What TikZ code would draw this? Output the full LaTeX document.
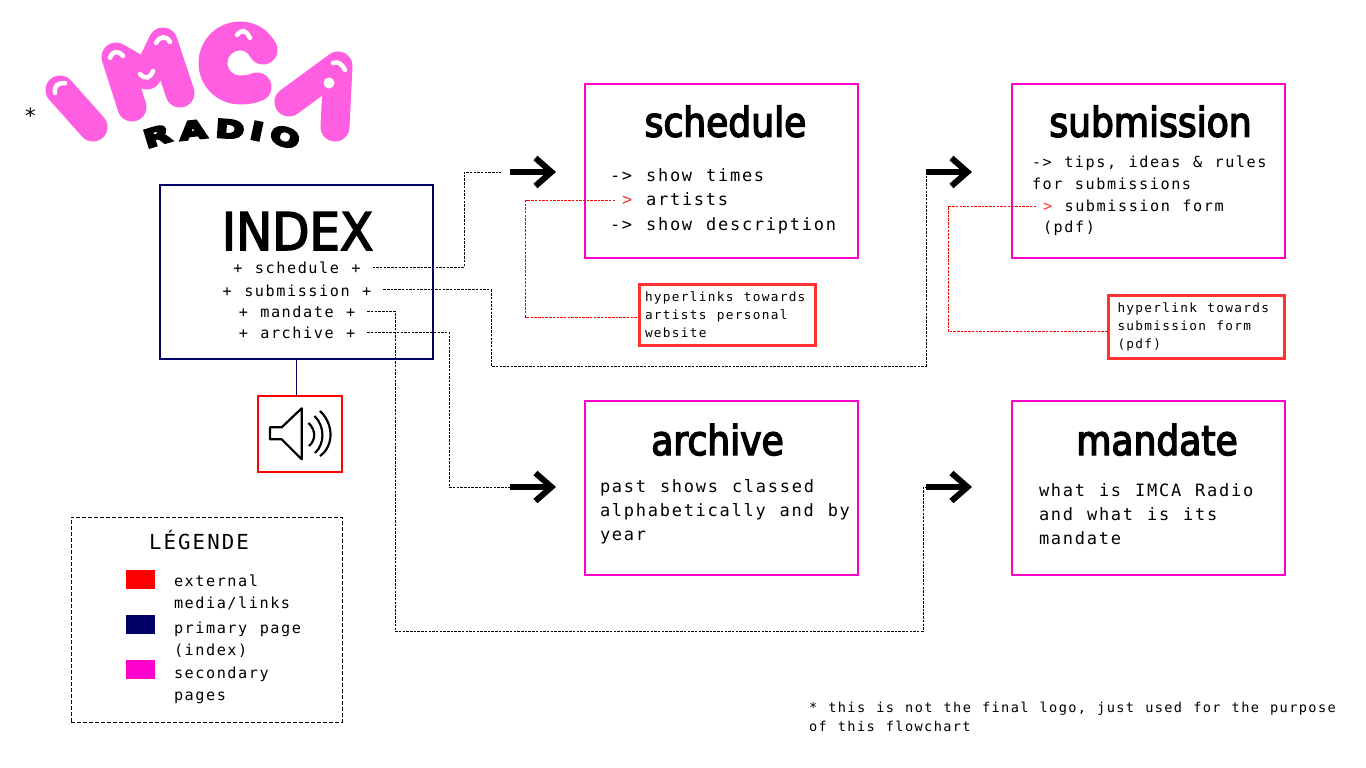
\documentclass[tikz,border=0pt]{standalone}
\usepackage{xcolor}
\usepackage{fontspec}
\usepackage{tikz}
\usetikzlibrary{arrows.meta,positioning}
\newfontfamily\monofont[LetterSpace=10.2,WordSpace=1.16]{DejaVu Sans Mono}
\newfontfamily\headfont[FakeStretch=0.88,FakeBold=3.5]{DejaVu Sans}
\newfontfamily\indexfont[FakeStretch=0.93,FakeBold=3]{DejaVu Sans}
\newfontfamily\radiofont[FakeStretch=1.45,FakeBold=11]{DejaVu Sans Bold}
\definecolor{pagenavy}{HTML}{000066}
\definecolor{pagepink}{HTML}{FF00CC}
\definecolor{mediared}{HTML}{FF0000}
\definecolor{linkred}{HTML}{FF3333}
\definecolor{logopink}{HTML}{FF5EE0}

\begin{document}
\begin{tikzpicture}[
    x=1pt, y=-1pt,
    node distance=20pt,
    every node/.style={outer sep=0pt},
    pagebox/.style={draw=pagepink, line width=2.4pt, minimum width=273pt, minimum height=174pt},
    indexbox/.style={draw=pagenavy, line width=2.4pt, minimum width=273pt, minimum height=174pt},
    mediabox/.style={draw=mediared, line width=2.4pt, minimum width=84pt, minimum height=76pt},
    linkbox/.style={draw=linkred, line width=3pt, align=flush left, inner ysep=0pt},
    swatch/.style={minimum width=29pt, minimum height=19pt, inner sep=0pt},
    titletxt/.style={anchor=base, inner sep=0pt, font=\headfont\fontsize{41}{41}\selectfont},
    menutxt/.style={anchor=base, inner xsep=12pt, inner ysep=0pt, text height=12.5pt, font=\monofont\fontsize{15.2}{20}\selectfont},
    listtxt/.style={anchor=base west, inner sep=0pt, align=flush left, font=\monofont\fontsize{17}{24}\selectfont},
    midtxt/.style={anchor=base west, inner sep=0pt, font=\monofont\fontsize{15.2}{22}\selectfont},
    reftxt/.style={anchor=base west, inner xsep=7pt, inner ysep=0pt, text height=10.5pt},
    smalltxt/.style={font=\monofont\fontsize{12.75}{18}\selectfont},
    radiotxt/.style={inner sep=0pt, text=black, font=\radiofont\fontsize{24}{24}\selectfont},
    dashline/.style={black, line width=0.8pt, dash pattern=on 2.5pt off 1.2pt},
    refline/.style={mediared, line width=0.8pt, dash pattern=on 2.5pt off 1.2pt},
    bigarr/.style={-{Straight Barb[length=16pt, width=28pt, line width=6pt]}, line width=6pt},
    logostroke/.style={logopink, line width=29pt, line cap=round, line join=round},
    logoshine/.style={white, line width=4.5pt, line cap=round},
]
\useasboundingbox (0,0) rectangle (1366,768);

% Logo
\draw[logostroke] (60,90) -- (93,127);
\draw[logostroke] (132,107) -- (116,57) -- (147,75) -- (163,42) -- (180,93);
\draw[logostroke] (263,50) .. controls (258,41) and (250,36) .. (240,36) .. controls (225,36) and (213,48) .. (213,63) .. controls (213,78) and (225,90) .. (240,90) .. controls (246,90) and (252,89) .. (257,87);
\draw[logostroke] (289,102) -- (338,66) -- (335,127);
\draw[logoshine] (55,93) .. controls (54,85) and (58,83) .. (65,83);
\draw[logoshine] (110,58) .. controls (112,51) and (118,50) .. (123,56);
\draw[logoshine] (140,74) .. controls (146,80) and (150,78) .. (153,71);
\draw[logoshine] (156,43) .. controls (160,36) and (166,35) .. (170,42);
\draw[logoshine] (237,35) .. controls (242,29) and (246,30) .. (250,38);
\draw[logoshine] (333,63) .. controls (338,61) and (342,64) .. (345,70);
\fill[white] (329,83) circle (5.5);
\node[radiotxt, rotate=17] (radior) at (157,136) {R};
\node[radiotxt, rotate=6] (radioa) at (193,130) {A};
\node[radiotxt, rotate=-4] (radiod) at (230,129) {D};
\node[radiotxt, rotate=-12] (radioi) at (257,131) {I};
\node[radiotxt, rotate=-18] (radioo) at (285,137) {O};
\node[inner sep=0pt, font=\monofont\fontsize{21}{21}\selectfont] (logostar) at (30.5,116) {*};

% Index
\node[indexbox] (index) at (296.5,272) {};
\node[titletxt, font=\indexfont\fontsize{52}{52}\selectfont] (indextitle) at (297.5,250) {INDEX};
\node[menutxt] (menusched) at (297,273.3) {+ schedule +};
\node[menutxt] (menusub) at (297,296) {+ submission +};
\node[menutxt] (menumand) at (297,317.3) {+ mandate +};
\node[menutxt] (menuarch) at (297,338.3) {+ archive +};

% Audio player
\node[mediabox, below=37pt of index, xshift=3.5pt] (speaker) {};
\draw[black, line width=2.2pt, line join=round] (270,427.3) -- (281.7,427.3) -- (301.7,408.3) -- (301.7,459.3) -- (281.7,439.3) -- (270,439.3) -- cycle;
\draw[black, line width=2.2pt] (308.5,423) .. controls (316,430) and (316,440) .. (309,446);
\draw[black, line width=2.2pt] (314.5,416) .. controls (325,426) and (325,444) .. (315,453);
\draw[black, line width=2.2pt] (320,411) .. controls (334,424) and (334,446) .. (320,456);

% Secondary pages
\node[pagebox] (schedule) at (721.5,171) {};
\node[pagebox, right=154pt of schedule] (submission) {};
\node[pagebox, below=143pt of schedule] (archive) {};
\node[pagebox, right=154pt of archive] (mandate) {};

% Schedule
\node[titletxt] (schedtitle) at (725.5,136.7) {schedule};
\node[listtxt] (showtimes) at (610,181.7) {-> show times};
\node[listtxt, reftxt] (artists) at (615,205.5) {\textcolor{linkred}{>} artists};
\node[listtxt] (showdesc) at (610,230) {-> show description};
\node[linkbox, smalltxt, text width=164pt, inner xsep=6pt, minimum height=61pt, below=26pt of schedule, xshift=5.5pt] (artistlink) {hyperlinks towards\\artists personal\\website};

% Submission
\node[titletxt] (subtitle) at (1150.5,136.7) {submission};
\node[midtxt] (subtips) at (1032,167.3) {-> tips, ideas \& rules};
\node[midtxt] (subfor) at (1032,189.3) {for submissions};
\node[midtxt, reftxt] (subform) at (1036,211.7) {\textcolor{linkred}{>} submission form};
\node[midtxt] (subpdf) at (1043,232.7) {(pdf)};
\node[linkbox, smalltxt, text width=158pt, inner xsep=9pt, minimum height=63pt, below=37pt of submission, xshift=48pt] (formlink) {hyperlink towards\\submission form\\(pdf)};

% Archive
\node[titletxt] (archtitle) at (717.5,455) {archive};
\node[listtxt] (archtext) at (600,540) {past shows classed\\alphabetically and by\\year};

% Mandate
\node[titletxt] (mandtitle) at (1157,455) {mandate};
\node[listtxt] (mandtext) at (1039,544) {what is IMCA Radio\\and what is its\\mandate};

% Big arrows
\coordinate (schedin) at (510,172);
\coordinate (subin) at (926,172);
\coordinate (archin) at (510,487);
\coordinate (mandin) at (926,487);
\draw[bigarr, shorten >=29pt] (schedin) -- (schedin -| schedule.west);
\draw[bigarr, shorten >=40pt] (subin) -- (subin -| submission.west);
\draw[bigarr, shorten >=29pt] (archin) -- (archin -| archive.west);
\draw[bigarr, shorten >=40pt] (mandin) -- (mandin -| mandate.west);

% Links
\draw[pagenavy, line width=1pt] (index.south) -- (index.south |- speaker.north);
\draw[dashline] (menusched.east) -| (464,172) -- ([xshift=-9pt]schedin);
\draw[dashline] (menusub.east) -| (491,366) -| (subin);
\draw[dashline] (menumand.east) -| (395,631) -| (923,487) -- (mandin);
\draw[dashline] (menuarch.east) -| (449,487) -- (archin);

% Hyperlink notes
\draw[refline] (artists.west) -| (525.7,317) -- (artistlink.west |- 0,317);
\draw[refline] (subform.west) -| (948,331.5) -- (formlink.west |- 0,331.5);

% Legend
\node[draw, line width=1pt, dash pattern=on 4pt off 2pt, minimum width=271pt, minimum height=205pt] (legend) at (206.5,619.5) {};
\node[inner sep=0pt, anchor=base, font=\monofont\fontsize{20.7}{24}\selectfont] (legendtitle) at (199,549) {LÉGENDE};
\node[swatch, fill=mediared] (swred) at (140.5,579.5) {};
\node[swatch, fill=pagenavy, below=26pt of swred] (swnavy) {};
\node[swatch, fill=pagepink, below=26pt of swnavy] (swpink) {};
\node[midtxt] (legred) at (174,586) {external};
\node[midtxt] (legredb) at (174,608) {media/links};
\node[midtxt] (legnavy) at (174,633) {primary page};
\node[midtxt] (legnavyb) at (174,655) {(index)};
\node[midtxt] (legpink) at (174,678) {secondary};
\node[midtxt] (legpinkb) at (174,700) {pages};

% Footnote
\node[anchor=base west, inner sep=0pt, font=\monofont\fontsize{13.6}{19}\selectfont] (footnote) at (809,712) {* this is not the final logo, just used for the purpose};
\node[anchor=base west, inner sep=0pt, font=\monofont\fontsize{13.6}{19}\selectfont] (footnoteb) at (809,731) {of this flowchart};
\end{tikzpicture}
\end{document}
